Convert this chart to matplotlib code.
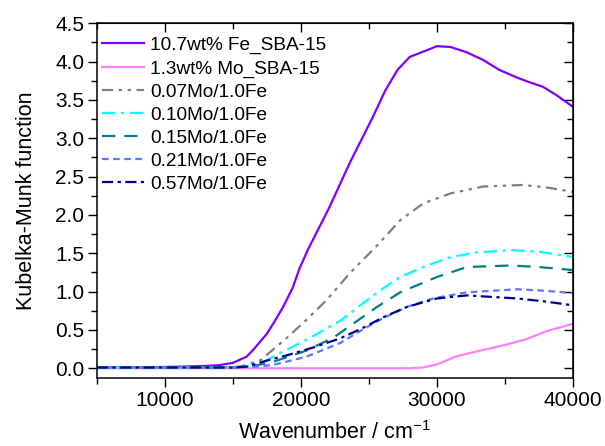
import matplotlib
matplotlib.use("Agg")
import matplotlib.pyplot as plt
from matplotlib.ticker import MultipleLocator, FormatStrFormatter

plt.rcParams["font.family"] = ["Liberation Sans", "DejaVu Sans"]
plt.rcParams["mathtext.fontset"] = "custom"
plt.rcParams["mathtext.rm"] = "Liberation Sans"

# values (wavenumber in cm-1, Kubelka-Munk)
fe_x = [5000, 8000, 11000, 13000, 14000, 15000, 16000, 16500, 17500, 18100, 18700, 19400, 19900,
        20500, 22100, 23600, 25300, 26200, 27100, 28000, 29300, 30000, 31000, 32200, 33400,
        34600, 35900, 36800, 37800, 38800, 40000]
fe_y = [0.01, 0.01, 0.02, 0.03, 0.04, 0.07, 0.15, 0.24, 0.45, 0.62, 0.80, 1.05, 1.30,
        1.54, 2.10, 2.68, 3.28, 3.62, 3.89, 4.06, 4.15, 4.20, 4.19, 4.12, 4.02,
        3.89, 3.79, 3.73, 3.67, 3.56, 3.41]

mo_x = [5000, 10000, 15000, 20000, 25000, 28000, 29000, 30000, 31500, 33200, 34900, 36600, 38000, 40000]
mo_y = [0.00, 0.00, 0.00, 0.00, 0.00, 0.00, 0.01, 0.05, 0.16, 0.23, 0.30, 0.38, 0.48, 0.58]

m07_x = [5000, 10000, 14000, 15500, 17000, 19000, 20400, 21900, 23600, 25600, 27300, 29000, 31000,
         33400, 36300, 38000, 40000]
m07_y = [0.01, 0.01, 0.01, 0.02, 0.10, 0.40, 0.63, 0.89, 1.24, 1.60, 1.93, 2.15, 2.28,
         2.37, 2.39, 2.36, 2.30]

m10_x = [5000, 10000, 15000, 16800, 18500, 20400, 22900, 25700, 27300, 29000, 31000, 32900, 35400,
         37500, 40000]
m10_y = [0.01, 0.01, 0.01, 0.04, 0.20, 0.37, 0.62, 1.00, 1.19, 1.32, 1.45, 1.51, 1.54,
         1.52, 1.45]

m15_x = [5000, 10000, 15000, 16500, 17900, 20400, 22400, 24000, 25600, 27300, 30000, 32200, 35400,
         37500, 40000]
m15_y = [0.01, 0.01, 0.01, 0.03, 0.08, 0.23, 0.40, 0.60, 0.80, 0.99, 1.19, 1.32, 1.34,
         1.32, 1.28]

m21_x = [5000, 10000, 15000, 16500, 17900, 20400, 22900, 24500, 26000, 27800, 29700, 32200, 35900,
         38000, 40000]
m21_y = [0.01, 0.01, 0.01, 0.02, 0.04, 0.15, 0.33, 0.50, 0.65, 0.80, 0.91, 0.99, 1.03,
         1.01, 0.98]

m57_x = [5000, 10000, 15000, 16000, 17500, 19000, 20900, 22900, 24500, 26000, 27800, 30000, 32200,
         35900, 38000, 40000]
m57_y = [0.01, 0.01, 0.01, 0.02, 0.10, 0.17, 0.27, 0.39, 0.52, 0.66, 0.80, 0.91, 0.95,
         0.91, 0.87, 0.82]

fig = plt.figure(figsize=(6.05, 4.46), dpi=100)
ax = fig.add_axes([0.160, 0.152, 0.787, 0.796])

lw = 1.6
ax.plot(fe_x, fe_y, color="#7f00ff", lw=lw, label="10.7wt% Fe_SBA-15")
ax.plot(mo_x, mo_y, color="#ff80ff", lw=lw, label="1.3wt% Mo_SBA-15")
ax.plot(m07_x, m07_y, color="#808080", lw=lw, dashes=(5, 2.5, 1.5, 2.5, 1.5, 2.5), label="0.07Mo/1.0Fe")
ax.plot(m10_x, m10_y, color="#00ffff", lw=lw, dashes=(6, 2.5, 1.5, 2.5), label="0.10Mo/1.0Fe")
ax.plot(m15_x, m15_y, color="#008080", lw=lw, dashes=(6, 4), label="0.15Mo/1.0Fe")
ax.plot(m21_x, m21_y, color="#5b78ff", lw=lw, dashes=(3, 2), label="0.21Mo/1.0Fe")
ax.plot(m57_x, m57_y, color="#000090", lw=lw, dashes=(5, 2, 1.5, 2), label="0.57Mo/1.0Fe")

ax.set_xlim(5000, 40000)
ax.set_ylim(-0.13, 4.5)
ax.xaxis.set_major_locator(MultipleLocator(10000))
ax.xaxis.set_minor_locator(MultipleLocator(5000))
ax.yaxis.set_major_locator(MultipleLocator(0.5))
ax.yaxis.set_minor_locator(MultipleLocator(0.25))
ax.yaxis.set_major_formatter(FormatStrFormatter("%.1f"))

ax.tick_params(which="both", direction="out", labelsize=15, width=1, pad=3)
ax.tick_params(axis="y", pad=2.5)
ax.tick_params(which="major", length=6.5)
ax.tick_params(which="minor", length=4)
for spine in ax.spines.values():
    spine.set_linewidth(1.1)

# mirrored ticks point inward on the top and right
ax2 = ax.secondary_xaxis("top")
ax2.xaxis.set_major_locator(MultipleLocator(10000))
ax2.xaxis.set_minor_locator(MultipleLocator(5000))
ax2.tick_params(which="both", direction="in", labeltop=False, width=1)
ax2.tick_params(which="major", length=6.5)
ax2.tick_params(which="minor", length=4)
ay2 = ax.secondary_yaxis("right")
ay2.yaxis.set_major_locator(MultipleLocator(0.5))
ay2.yaxis.set_minor_locator(MultipleLocator(0.25))
ay2.tick_params(which="both", direction="in", labelright=False, width=1)
ay2.tick_params(which="major", length=6.5)
ay2.tick_params(which="minor", length=4)

ax.set_xlabel(r"Wavenumber / cm$^{\mathregular{-1}}$", fontsize=15.5, labelpad=8)
ax.set_ylabel("Kubelka-Munk function", fontsize=15.5, labelpad=13)

ax.legend(loc="upper left", frameon=False, fontsize=13.7, handlelength=2.25, handletextpad=0.3,
          labelspacing=0.3, borderpad=0.25, borderaxespad=0.0, bbox_to_anchor=(0.0, 0.975))

fig.savefig("out.png", dpi=100)
